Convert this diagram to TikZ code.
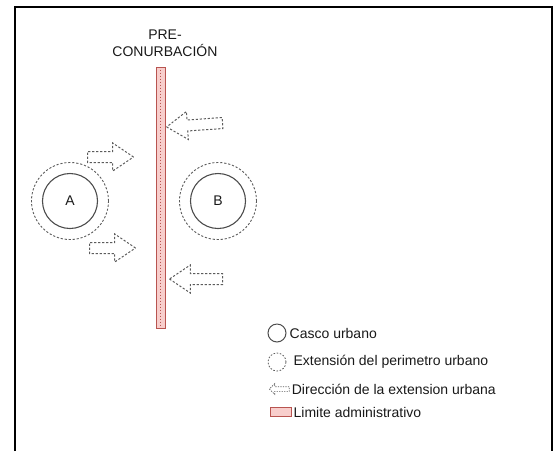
\documentclass[tikz,border=0pt]{standalone}
\usepackage{fontspec}
\setmainfont{Liberation Sans}
\usetikzlibrary{shapes.arrows}
\usetikzlibrary{positioning}
\definecolor{rodfill}{HTML}{F8CECC}
\definecolor{rodline}{HTML}{B85450}
\definecolor{cityline}{HTML}{4D4D4D}
\definecolor{dashline}{HTML}{5C5C5C}
\begin{document}
\begin{tikzpicture}
    [
        x = 1pt, y = -1pt,
        every node/.style = {font = \fontsize{14}{17}\selectfont, text = black!90},
        casco/.style     = {circle, draw = cityline, line width = 1.1pt, minimum size = 55pt, inner sep = 0pt},
        perimetro/.style = {circle, draw = dashline, line width = .9pt, dash pattern = on 2.2pt off 1.8pt, minimum size = 77pt, inner sep = 0pt},
        expansion/.style = {single arrow, draw = dashline, line width = 1pt, dash pattern = on 2.2pt off 1.8pt,
                            inner sep = 5pt, single arrow head extend = 8.5pt, single arrow tip angle = 68},
        limite/.style    = {rectangle, draw = rodline, fill = rodfill, line width = .9pt, inner sep = 0pt},
        legtext/.style   = {anchor = west, inner sep = 0pt}
    ]
    \useasboundingbox (0,0) rectangle (559,451);

    % Frame:
    \draw [line width = 2pt] (15,451) -- (15,7) -- (552,7) -- (552,451);

    % Administrative limit:
    \node [align = center] (Title) at (165,43.5) {PRE-\\CONURBACIÓN};
    \node [limite, minimum width = 9pt, minimum height = 261pt] (Rod) at (160.5,197.5) {};
    \draw [rodline, line width = 1pt, dash pattern = on 1.5pt off 1.5pt]
        ([yshift = -3pt]Rod.north) -- ([yshift = 3pt]Rod.south);

    % Urban centres and their extension:
    \node [perimetro] (ExtA) at (70,201) {};
    \node [casco] (A) at (70,201) {A};
    \node [perimetro] (ExtB) at (218,201) {};
    \node [casco] (B) at (218,201) {B};

    % Directions of growth:
    \node [expansion, minimum height = 46pt, anchor = tail] (GrowA1) at (87,157) {};
    \node [expansion, minimum height = 46pt, anchor = tail] (GrowA2) at (89,248) {};
    \node [expansion, minimum height = 56pt, anchor = tail, rotate = 184] (GrowB1) at (223,123) {};
    \node [expansion, minimum height = 53pt, anchor = tail, rotate = 180] (GrowB2) at (223,279) {};

    % Legend:
    \node [circle, draw = cityline, line width = 1pt, minimum size = 18pt, inner sep = 0pt] (LegCasco) at (277,333) {};
    \node [legtext, right = 3pt of LegCasco] (TxtCasco) {Casco urbano};
    \node [circle, draw = dashline, line width = .8pt, dash pattern = on 1.6pt off 1.6pt, minimum size = 18pt, inner sep = 0pt] (LegExt) at (277,362) {};
    \node [legtext, right = 7pt of LegExt] (TxtExt) {Extensión del perimetro urbano};
    \node [single arrow, draw = dashline, line width = .7pt, dash pattern = on 1.3pt off 1.2pt, inner sep = 2pt,
           single arrow head extend = 3pt, minimum height = 20pt, shape border rotate = 180] (LegDir) at (280.5,389) {};
    \node [legtext, right = 2pt of LegDir] (TxtDir) {Dirección de la extension urbana};
    \node [limite, minimum width = 21pt, minimum height = 9pt] (LegLim) at (280.5,412) {};
    \node [legtext, right = 2pt of LegLim] (TxtLim) {Limite administrativo};
\end{tikzpicture}
\end{document}
